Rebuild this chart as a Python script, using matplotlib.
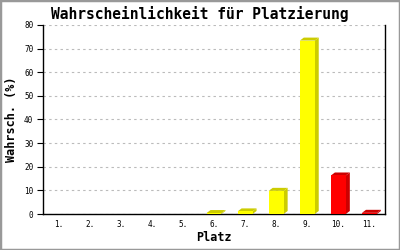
import matplotlib
matplotlib.use("Agg")
import matplotlib.pyplot as plt
from matplotlib.patches import Rectangle, Polygon

places = ["1.", "2.", "3.", "4.", "5.", "6.", "7.", "8.", "9.", "10.", "11."]
probs = [0, 0, 0, 0, 0, 0.4, 1.1, 9.8, 73.4, 16.3, 0.5]
colors = ["#ffff00"] * 9 + ["#ff0000"] * 2
shades = ["#cccc00"] * 9 + ["#cc0000"] * 2

mono = "DejaVu Sans Mono"
fig = plt.figure(figsize=(4, 2.5), dpi=100)
ax = fig.add_axes([43 / 400, 36 / 250, 342 / 400, 189 / 250])
ax.set_xlim(0.5, 11.5)
ax.set_ylim(0, 80)

w = 0.48
dx = 4 / 31.1
dy = 3 / 2.3625
for i, (v, c, s) in enumerate(zip(probs, colors, shades)):
    x = i + 1
    if v <= 0:
        continue
    l, r = x - w / 2, x + w / 2
    # side and top of the 3d box
    ax.add_patch(Polygon([(r, 0), (r + dx, dy), (r + dx, v + dy), (r, v)], closed=True, fc=s, ec="none", zorder=2))
    ax.add_patch(Polygon([(l, v), (l + dx, v + dy), (r + dx, v + dy), (r, v)], closed=True, fc=s, ec="none", zorder=2))
    ax.bar(x, v, width=w, color=c, zorder=3)

ax.set_xticks(range(1, 12))
ax.set_xticklabels(places, family=mono, fontsize=5.5)
ax.set_yticks(range(0, 81, 10))
ax.set_yticklabels([str(t) for t in range(0, 81, 10)], family=mono, fontsize=5.5)
ax.tick_params(axis="x", length=0, pad=4)
ax.tick_params(axis="y", length=4, width=0.8, pad=3)
ax.yaxis.grid(True, color="#bbbbbb", linestyle=(0, (2.2, 2.9)), linewidth=0.8)
ax.set_axisbelow(True)
ax.spines["top"].set_visible(False)
for sp in ["left", "bottom", "right"]:
    ax.spines[sp].set_linewidth(1.0)

ax.set_xlabel("Platz", family=mono, fontsize=8.5, fontweight="bold", labelpad=2)
ax.set_ylabel("Wahrsch. (%)", family=mono, fontsize=8.5, fontweight="bold", labelpad=4)
fig.text(0.5, 1 - 14 / 250, "Wahrscheinlichkeit für Platzierung", ha="center", va="center",
         family=mono, fontsize=10.5, fontweight="bold")

fig.patches.append(Rectangle((0, 0), 1, 1, transform=fig.transFigure, fill=False,
                             ec="#999999", lw=2.5))
fig.savefig("out.png", dpi=100)
